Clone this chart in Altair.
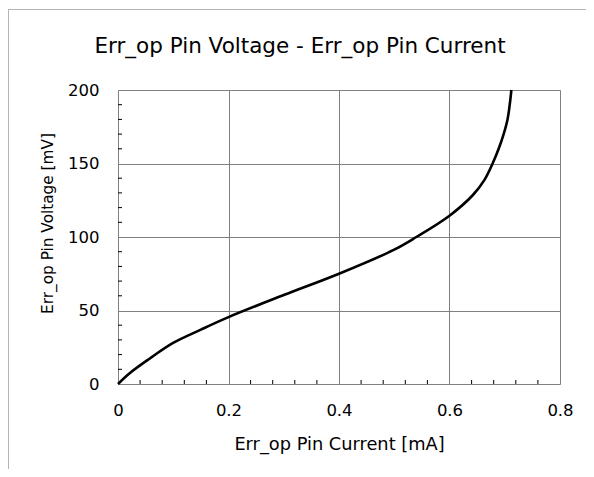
import altair as alt
import pandas as pd

# Curve
current_mA = [0, 0.02, 0.057, 0.099, 0.15, 0.2, 0.3, 0.4, 0.5, 0.54, 0.6, 0.642, 0.663, 0.678, 0.689, 0.698, 0.705, 0.709, 0.712]
voltage_mV = [0, 7, 17.2, 27.8, 37, 45.5, 60.5, 75, 91.4, 100, 114.5, 128.4, 138.7, 150, 160, 170, 180, 190, 200]

x_major = [0, 0.2, 0.4, 0.6, 0.8]
y_major = [0, 50, 100, 150, 200]
x_minor = [0.04, 0.08, 0.12, 0.16, 0.24, 0.28, 0.32, 0.36, 0.44, 0.48, 0.52, 0.56, 0.64, 0.68, 0.72, 0.76]
y_minor = [10, 20, 30, 40, 60, 70, 80, 90, 110, 120, 130, 140, 160, 170, 180, 190]

W, H = 442, 294
FONT = "DejaVu Sans"

df = pd.DataFrame({"I": current_mA, "V": voltage_mV})
xs = alt.Scale(domain=[0, 0.8], nice=False)
ys = alt.Scale(domain=[0, 200], nice=False)

x_axis = alt.Axis(
    values=x_major, format="~g", grid=True, gridColor="#808080", gridWidth=1,
    ticks=False, tickSize=0, domain=False, labelPadding=18, labelFontSize=16.5,
    labelFont=FONT, labelColor="#000", labelFlush=False,
    title="Err_op Pin Current [mA]", titleFont=FONT, titleFontSize=17.8,
    titleFontWeight="normal", titleColor="#000", titleBaseline="alphabetic",
    titleY=65.5,
)
y_axis = alt.Axis(
    values=y_major, grid=True, gridColor="#808080", gridWidth=1,
    ticks=False, tickSize=0, domain=False, labelPadding=19, labelFontSize=16.5,
    labelFont=FONT, labelColor="#000", labelFlush=False,
    title="Err_op Pin Voltage [mV]", titleFont=FONT, titleFontSize=15.3,
    titleFontWeight="normal", titleColor="#000", titleBaseline="alphabetic",
    titleAngle=270, titleX=-66, titleY=133,
)

curve = alt.Chart(df).mark_line(color="black", strokeWidth=2.6, interpolate="catmull-rom").encode(
    x=alt.X("I:Q", scale=xs, axis=x_axis),
    y=alt.Y("V:Q", scale=ys, axis=y_axis),
)

xm = alt.Chart(pd.DataFrame({"I": x_minor})).mark_rule(color="black", strokeWidth=1).encode(
    x=alt.X("I:Q", scale=xs), y=alt.value(H), y2=alt.value(H - 4)
)
ym = alt.Chart(pd.DataFrame({"V": y_minor})).mark_rule(color="black", strokeWidth=1).encode(
    y=alt.Y("V:Q", scale=ys), x=alt.value(0), x2=alt.value(4)
)

frame_top = alt.Chart(pd.DataFrame({"a": [0]})).mark_rule(color="#b4b4b4", strokeWidth=1).encode(
    x=alt.value(-110), x2=alt.value(W + 26), y=alt.value(-80.5)
)
frame_left = alt.Chart(pd.DataFrame({"a": [0]})).mark_rule(color="#b4b4b4", strokeWidth=1).encode(
    x=alt.value(-109.5), y=alt.value(-80.5), y2=alt.value(H + 85)
)

chart = alt.layer(frame_top, frame_left, xm, ym, curve).properties(
    width=W, height=H,
    title=alt.TitleParams(
        "Err_op Pin Voltage - Err_op Pin Current", font=FONT, fontSize=21.5,
        fontWeight="normal", color="#000", anchor="middle", baseline="alphabetic",
        offset=37, dx=-39, dy=102,
    ),
    padding={"left": 110, "top": 82, "right": 26, "bottom": 85},
    autosize=alt.AutoSizeParams(type="none"),
).configure_view(stroke="black", strokeWidth=2).configure(background="white")

chart.save("out.html", embed_options={"renderer": "svg", "actions": False})
